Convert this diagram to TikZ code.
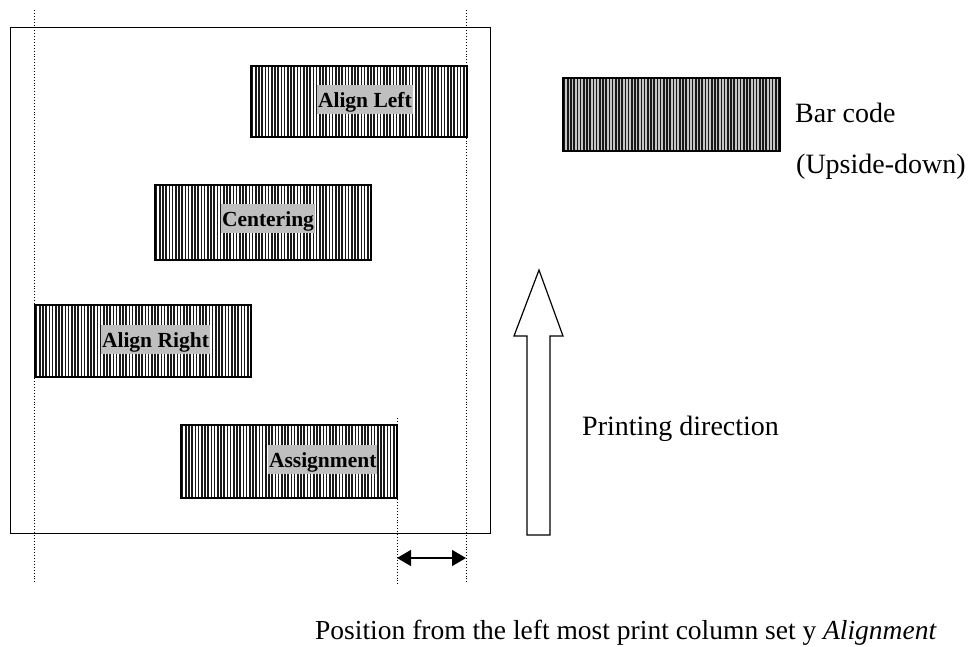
\documentclass[tikz,border=0pt]{standalone}
\usepackage{fontspec}
\setmainfont{Liberation Serif}
\usetikzlibrary{arrows.meta}
\tikzset{
  barbox/.style={draw=black, line width=1.8pt, fill=white, minimum width=216pt, minimum height=72pt, inner sep=0pt,
    path picture={
      \foreach \i in {1.6,4.8,...,220} {
        \draw[line width=1.6pt, black!90] ([xshift=\i pt]path picture bounding box.south west) -- ([xshift=\i pt]path picture bounding box.north west);
      }
    }},
  codebox/.style={barbox, fill=gray!45},
  barlabel/.style={fill=gray!50, inner xsep=0.8pt, inner ysep=0pt, text height=22pt, text depth=7pt, anchor=base west, font=\bfseries\fontsize{21.5}{24}\selectfont},
  guide/.style={dotted, line width=0.9pt},
  txt/.style={font=\fontsize{28}{32}\selectfont, inner sep=0pt}
}
\begin{document}
\begin{tikzpicture}[x=1pt, y=-1pt]
\useasboundingbox (0,0) rectangle (975,646);
% page
\node[draw, line width=1.2pt, minimum width=480pt, minimum height=506pt, inner sep=0pt, anchor=north west] (page) at (10,27) {};
% guides
\coordinate (gLt) at (34,10); \coordinate (gLb) at (34,584);
\coordinate (gRt) at (466,10); \coordinate (gRb) at (466,584);
\coordinate (gAt) at (397,418); \coordinate (gAb) at (397,584);
\draw[guide] (gLt) -- (gLb);
\draw[guide] (gRt) -- (gRb);
\draw[guide] (gAt) -- (gAb);
% bars
\node[barbox, minimum height=71pt, anchor=north west] (left) at (250,65) {};
\node[barlabel] (leftlbl) at (317,107) {Align Left};
\node[barbox, minimum height=75pt, anchor=north west] (center) at (154,184) {};
\node[barlabel] (centerlbl) at (221,226) {Centering};
\node[barbox, anchor=north west] (right) at (34,304) {};
\node[barlabel] (rightlbl) at (101,347) {Align Right};
\node[barbox, minimum height=73pt, anchor=north west] (assign) at (180,424) {};
\node[barlabel] (assignlbl) at (268,467) {Assignment};
\node[codebox, minimum width=217pt, minimum height=73pt, anchor=north west] (barcode) at (562,77) {};
% labels
\node[txt, anchor=base west] (bc) at (795,122) {Bar code};
\node[txt, anchor=base west] (ud) at (796,173) {(Upside-down)};
\node[txt, anchor=base west] (pd) at (582,435) {Printing direction};
\node[txt, font=\fontsize{27.5}{30}\selectfont, anchor=base west] (pos) at (315,639) {Position from the left most print column set y \textit{Alignment}};
% printing direction arrow
\draw[line width=1.2pt, line join=miter] (527,535) -- (527,336) -- (514,336) -- (539,270) -- (563,336) -- (550,336) -- (550,535) -- cycle;
% offset arrow
\coordinate (oa) at (397,558); \coordinate (ob) at (466,558);
\draw[line width=1.4pt, {Triangle[length=14pt,width=16pt]}-{Triangle[length=14pt,width=16pt]}] (oa) -- (ob);
\end{tikzpicture}
\end{document}
